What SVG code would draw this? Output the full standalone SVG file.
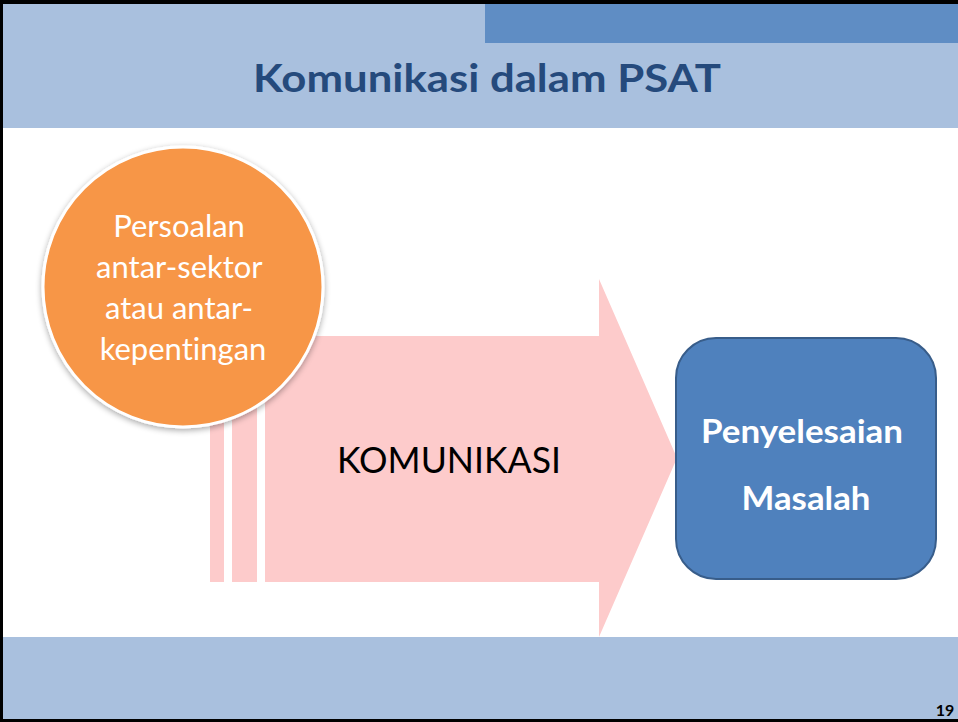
<svg xmlns="http://www.w3.org/2000/svg" width="958" height="722" viewBox="0 0 958 722">
<defs>
<style>
.f{font-family:Lato,"Open Sans","Liberation Sans",sans-serif;font-variant-ligatures:none}
.title{font-size:39px;font-weight:bold;fill:#254A7C}
.circ{font-size:31px;fill:#FFFFFF}
.box{font-size:33px;font-weight:bold;fill:#FFFFFF}
.arrow{fill:#FDCBCB}
</style>
<filter id="sh" x="-20%" y="-20%" width="140%" height="140%">
<feGaussianBlur in="SourceAlpha" stdDeviation="3"/>
<feOffset dx="0" dy="2"/>
<feComponentTransfer><feFuncA type="linear" slope="0.35"/></feComponentTransfer>
<feMerge><feMergeNode/><feMergeNode in="SourceGraphic"/></feMerge>
</filter>
</defs>
<rect x="0" y="0" width="958" height="722" fill="#FFFFFF"/>
<g id="header">
<rect x="0" y="0" width="958" height="128" fill="#A9C0DE"/>
<rect x="485" y="0" width="473" height="43" fill="#5F8DC4"/>
<text class="f title" x="487" y="92" text-anchor="middle" textLength="468" lengthAdjust="spacingAndGlyphs">Komunikasi dalam PSAT</text>
</g>
<g id="footer">
<rect x="0" y="637" width="958" height="85" fill="#A9C0DE"/>
<text class="f" x="945" y="716" text-anchor="middle" font-size="16" font-weight="bold" fill="#000000">19</text>
</g>
<g id="connectors">
<g id="arrow-komunikasi">
<rect class="arrow" x="210" y="336" width="14" height="246"/>
<rect class="arrow" x="232" y="336" width="25" height="246"/>
<polygon class="arrow" points="265,336 599,336 599,279 677,458 599,637 599,582 265,582"/>
<text class="f" x="449" y="473" text-anchor="middle" font-size="36" fill="#000000" textLength="224" lengthAdjust="spacingAndGlyphs">KOMUNIKASI</text>
</g>
</g>
<g id="node-persoalan">
<circle cx="183" cy="287" r="140" fill="#F79646" stroke="#FFFFFF" stroke-width="3" filter="url(#sh)"/>
<text class="f circ" text-anchor="middle">
<tspan x="183" y="237">Persoalan</tspan>
<tspan x="183" y="278">antar-sektor</tspan>
<tspan x="183" y="319">atau antar-</tspan>
<tspan x="183" y="360">kepentingan</tspan>
</text>
</g>
<g id="node-penyelesaian">
<rect x="676" y="338" width="260" height="241" rx="40" ry="40" fill="#4F81BD" stroke="#385D8A" stroke-width="2"/>
<text class="f box" text-anchor="middle">
<tspan x="806" y="443" textLength="202" lengthAdjust="spacingAndGlyphs">Penyelesaian</tspan>
<tspan x="806" y="510" textLength="129" lengthAdjust="spacingAndGlyphs">Masalah</tspan>
</text>
</g>
<g id="frame" stroke="#000000" fill="none">
<line x1="1.5" y1="0" x2="1.5" y2="722" stroke-width="3"/>
<line x1="0" y1="2" x2="958" y2="2" stroke-width="4"/>
<line x1="0" y1="720.5" x2="958" y2="720.5" stroke-width="3"/>
</g>
</svg>
